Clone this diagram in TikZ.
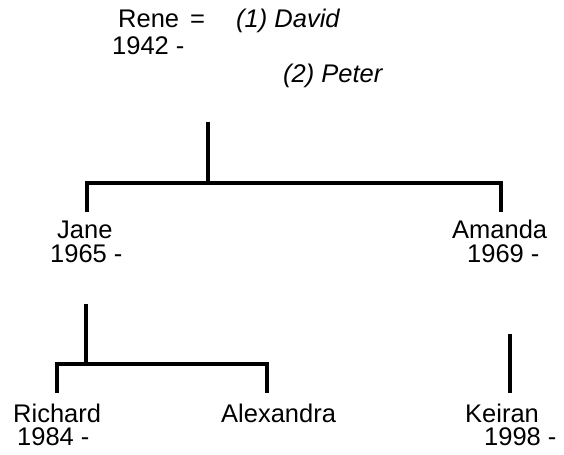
\documentclass[tikz,border=0pt]{standalone}
\usepackage{fontspec}
\setmainfont{Liberation Sans}
\begin{document}
\begin{tikzpicture}[x=1bp,y=-1bp,
  lbl/.style={anchor=base west,inner sep=0pt,font=\fontsize{25.5bp}{30bp}\selectfont},
  spouse/.style={lbl,font=\fontsize{25.5bp}{30bp}\selectfont\itshape},
  tree/.style={line width=3.5bp,line join=miter,line cap=butt}]
\useasboundingbox (0,0) rectangle (564,455);
% texts
\node[lbl] (rene) at (118,28) {Rene};
\node[lbl] (eq) at (190,28) {=};
\node[spouse] (david) at (236,28) {(1) David};
\node[lbl] (rened) at (112,55) {1942 -};
\node[spouse] (peter) at (283,83) {(2) Peter};
\node[lbl] (jane) at (57,239) {Jane};
\node[lbl] (janed) at (50,262.5) {1965 -};
\node[lbl] (amanda) at (452,239) {Amanda};
\node[lbl] (amandad) at (467,262.5) {1969 -};
\node[lbl] (richard) at (13,422) {Richard};
\node[lbl] (richardd) at (17,445) {1984 -};
\node[lbl] (alex) at (221,422) {Alexandra};
\node[lbl] (keiran) at (465,422) {Keiran};
\node[lbl] (keirand) at (484,445) {1998 -};
% connector points
\coordinate (c1) at (208,122);
\coordinate (c1b) at (208,183);
\coordinate (j1) at (87,212);
\coordinate (a1) at (501,212);
\coordinate (c2) at (86,304);
\coordinate (c2b) at (86,364);
\coordinate (r1) at (57,393);
\coordinate (x1) at (267,393);
\coordinate (k0) at (510,334);
\coordinate (k1) at (510,393);
\draw[tree] (c1) -- (c1b);
\draw[tree] (j1) -- (j1 |- c1b) -- (a1 |- c1b) -- (a1);
\draw[tree] (c2) -- (c2b);
\draw[tree] (r1) -- (r1 |- c2b) -- (x1 |- c2b) -- (x1);
\draw[tree] (k0) -- (k1);
\end{tikzpicture}
\end{document}
